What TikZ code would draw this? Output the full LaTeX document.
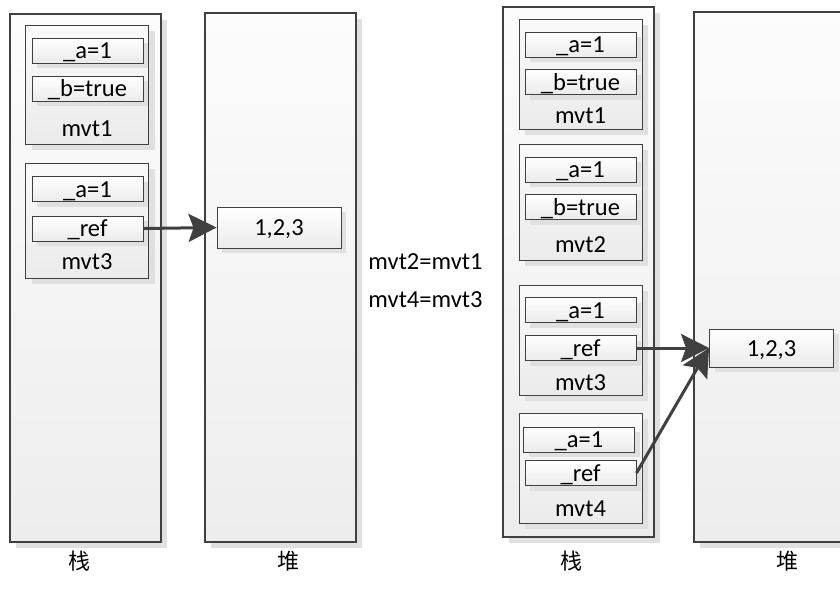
\documentclass[tikz,border=0pt]{standalone}
\usepackage{fontspec}
\setmainfont{Carlito}
\newfontfamily\cjkfont{Noto Sans CJK SC}
\usetikzlibrary{arrows.meta,shadows}
\definecolor{edge}{HTML}{404040}
\definecolor{shadowgray}{HTML}{E0E0E0}
\definecolor{paneltop}{HTML}{FCFCFC}
\definecolor{panelbot}{HTML}{EDEDED}
\definecolor{boxtop}{HTML}{FAFAFA}
\definecolor{boxbot}{HTML}{EBEBEB}
\begin{document}
\begin{tikzpicture}[x=1pt,y=-1pt,
  txt/.style={font=\fontsize{24.5}{24.5}\selectfont, text=black},
  column/.style={draw=edge, line width=1.2pt, top color=paneltop, bottom color=panelbot,
    minimum width=151pt, inner sep=0pt,
    drop shadow={shadow xshift=6pt, shadow yshift=-6pt, fill=shadowgray, opacity=1}},
  objbox/.style={draw=edge, line width=1pt, top color=boxtop, bottom color=boxbot,
    minimum width=123pt, inner sep=0pt,
    drop shadow={shadow xshift=6pt, shadow yshift=-6pt, fill=shadowgray, opacity=1}},
  field/.style={txt, draw=edge, line width=0.9pt, top color=white, bottom color=boxbot,
    minimum width=111pt, minimum height=25pt, inner sep=0pt, text height=18pt, text depth=2pt,
    drop shadow={shadow xshift=5pt, shadow yshift=-5pt, fill=shadowgray, opacity=1}},
  heapval/.style={field, minimum width=124pt},
  caption/.style={txt, anchor=base},
  ptr/.style={draw=edge, line width=3pt, -{Stealth[length=28pt, width=28pt, inset=5pt]}},
  cjk/.style={font=\cjkfont\fontsize{22}{22}\selectfont, text=black}
]
\useasboundingbox (0,0) rectangle (840,598);
\clip (0,0) rectangle (840,598);

% ---- before the copy: stack and heap ----
\node[column, minimum height=528pt] (stackA) at (85.5,278) {};
\node[column, minimum height=529pt] (heapA) at (280.5,277.5) {};

\node[objbox, minimum height=119pt] (a1) at (87,84.5) {};
\node[field] (a1a) at (87.5,50.5) {\_a=1};
\node[field] (a1b) at (87.5,88.5) {\_b=true};
\node[caption] (a1n) at (87,136) {mvt1};

\node[objbox, minimum height=115pt] (a3) at (87,220.5) {};
\node[field] (a3a) at (87.5,189) {\_a=1};
\node[field] (a3r) at (87.5,228.5) {\_ref};
\node[caption] (a3n) at (87,269) {mvt3};

\node[heapval, minimum height=41pt] (arr1) at (279,227.5) {1,2,3};
\draw[ptr] (a3r.east) -- (arr1.west);

% ---- assignments ----
\node[caption] (asg1) at (425.5,269) {mvt2=mvt1};
\node[caption] (asg2) at (425.5,307) {mvt4=mvt3};

% ---- after the copy: stack and heap ----
\node[column, minimum height=530pt] (stackB) at (578.5,272) {};
\node[column, minimum height=530pt] (heapB) at (769.5,277) {};

\node[objbox, minimum height=110pt] (b1) at (580.5,74) {};
\node[field] (b1a) at (580.5,44.5) {\_a=1};
\node[field] (b1b) at (580.5,82) {\_b=true};
\node[caption] (b1n) at (580.5,123) {mvt1};

\node[objbox, minimum height=116pt] (b2) at (580.5,202) {};
\node[field] (b2a) at (580.5,169.5) {\_a=1};
\node[field] (b2b) at (580.5,207) {\_b=true};
\node[caption] (b2n) at (580.5,252) {mvt2};

\node[objbox, minimum height=110pt] (b3) at (580.5,340) {};
\node[field] (b3a) at (580.5,310) {\_a=1};
\node[field] (b3r) at (580.5,348) {\_ref};
\node[caption] (b3n) at (580.5,390) {mvt3};

\node[objbox, minimum height=110pt] (b4) at (580.5,468) {};
\node[field] (b4a) at (579,439.5) {\_a=1};
\node[field] (b4r) at (580.5,473) {\_ref};
\node[caption] (b4n) at (580.5,516) {mvt4};

\node[heapval, minimum height=38pt] (arr2) at (771.5,348) {1,2,3};
\draw[ptr] (b3r.east) -- (arr2.west);
\draw[ptr] (b4r.east) -- (arr2.west);

% ---- column captions ----
\node[cjk] (capA1) at (79,561) {栈};
\node[cjk] (capA2) at (288,561) {堆};
\node[cjk] (capB1) at (571,561) {栈};
\node[cjk] (capB2) at (787,561) {堆};
\end{tikzpicture}
\end{document}
